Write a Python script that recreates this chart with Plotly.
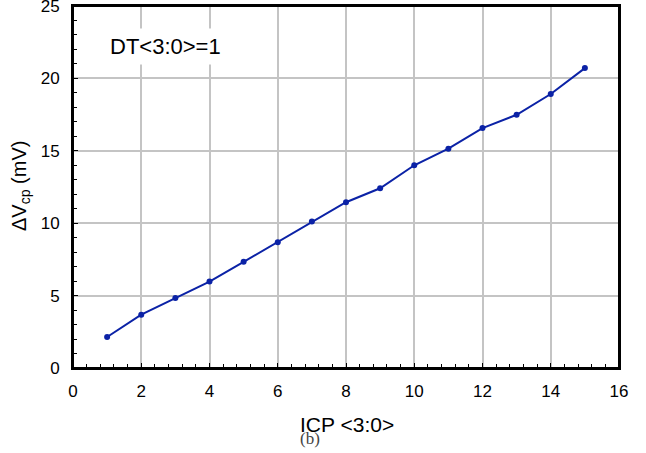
import plotly.graph_objects as go

# ICP code vs. measured charge-pump voltage step
icp_code = [1, 2, 3, 4, 5, 6, 7, 8, 9, 10, 11, 12, 13, 14, 15]
delta_vcp_mv = [2.14, 3.68, 4.83, 5.97, 7.33, 8.69, 10.11, 11.45, 12.41,
                14.0, 15.15, 16.57, 17.49, 18.92, 20.71]

x_ticks = [0, 2, 4, 6, 8, 10, 12, 14, 16]
y_ticks = [0, 5, 10, 15, 20, 25]

W, H = 646, 453
ML, MR, MT, MB = 73, 27, 6, 85
plot_w = W - ML - MR
plot_h = H - MT - MB


def px_x(px):
    return (px - ML) / plot_w


def px_y(py):
    return (H - MB - py) / plot_h


line_color = "#0b22a6"
sans = "Liberation Sans, Arial, sans-serif"
tick_font = dict(family=sans, size=17, color="#000")

fig = go.Figure()
fig.add_trace(go.Scatter(
    x=icp_code, y=delta_vcp_mv, mode="lines+markers",
    line=dict(color=line_color, width=2),
    marker=dict(color=line_color, size=6),
    showlegend=False, hoverinfo="x+y",
))

axis_common = dict(
    showline=True, linecolor="#000", linewidth=2, mirror=True,
    showgrid=True, gridcolor="#c4c4c4", gridwidth=1.5,
    zeroline=False, ticks="inside", ticklen=5, tickwidth=1, tickcolor="#000",
    tickfont=tick_font, fixedrange=True, ticklabeloverflow="allow",
    automargin=False, layer="above traces",
)

fig.update_xaxes(
    range=[0, 16], tickvals=x_ticks, ticktext=[str(v) for v in x_ticks],
    minor=dict(dtick=0.4, tick0=0, ticks="inside", ticklen=4, tickcolor="#000", showgrid=False),
    ticklabelstandoff=7,
    **axis_common,
)
fig.update_yaxes(
    range=[0, 25], tickvals=y_ticks, ticktext=[str(v) for v in y_ticks],
    minor=dict(dtick=1, tick0=0, ticks="inside", ticklen=4, tickcolor="#000", showgrid=False),
    ticklabelstandoff=8,
    **axis_common,
)

fig.update_layout(
    width=W, height=H,
    margin=dict(l=ML, r=MR, t=MT, b=MB, autoexpand=False),
    paper_bgcolor="white", plot_bgcolor="white",
    # black frame around the plotting area
    shapes=[dict(type="rect", xref="paper", yref="paper", x0=0, y0=0, x1=1, y1=1,
                 line=dict(color="#000", width=2), layer="above")],
    annotations=[
        dict(text="DT<3:0>=1", x=px_x(104), y=px_y(47), xref="paper", yref="paper",
             xanchor="left", yanchor="middle", showarrow=False,
             bgcolor="white", borderpad=5,
             font=dict(family=sans, size=22, color="#000")),
        dict(text="ΔV<sub>cp</sub> (mV)", x=px_x(21), y=px_y(186), xref="paper", yref="paper",
             xanchor="center", yanchor="middle", showarrow=False, textangle=-90,
             font=dict(family=sans, size=20, color="#000")),
        dict(text="ICP <3:0>", x=px_x(347), y=px_y(424), xref="paper", yref="paper",
             xanchor="center", yanchor="middle", showarrow=False,
             font=dict(family=sans, size=21, color="#000")),
        dict(text="(b)", x=px_x(310), y=px_y(438), xref="paper", yref="paper",
             xanchor="center", yanchor="middle", showarrow=False,
             font=dict(family="Liberation Serif, Times New Roman, serif", size=17, color="#444")),
    ],
)

fig.write_html("out.html")
